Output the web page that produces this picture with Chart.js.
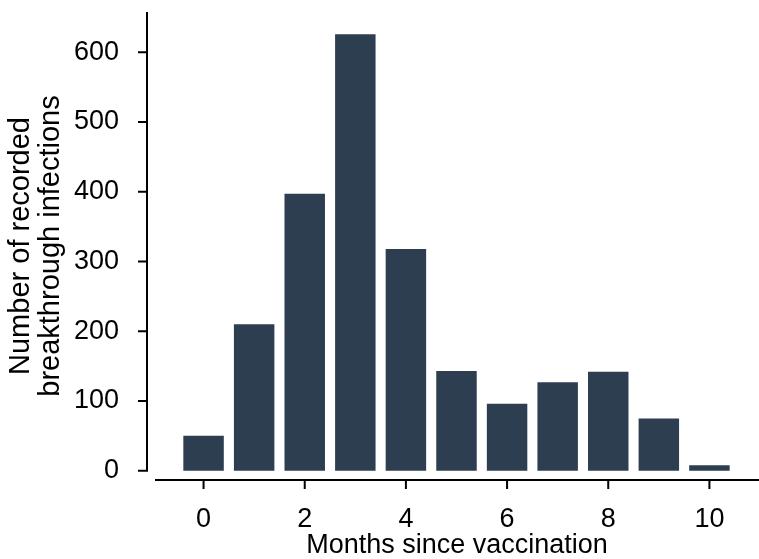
<!DOCTYPE html>
<html><head><meta charset="utf-8">
<script src="https://cdn.jsdelivr.net/npm/chart.js@4/dist/chart.umd.min.js"></script>
<style>html,body{margin:0;padding:0;background:#fff}#wrap{width:759px;height:559px;position:relative}</style>
</head><body><div id="wrap"><canvas id="c" width="759" height="559"></canvas></div>
<script>
const months = [0, 1, 2, 3, 4, 5, 6, 7, 8, 9, 10];
const infections = [50, 210, 397, 626, 318, 143, 96, 127, 142, 75, 8];
const xTickValues = [0, 2, 4, 6, 8, 10];
const yTickValues = [0, 100, 200, 300, 400, 500, 600];
const xTitle = 'Months since vaccination';
const yTitle = ['Number of recorded', 'breakthrough infections'];

const FONT = '"Liberation Sans", Arial, Helvetica, sans-serif';

const axisLines = {
  id: 'axisLines',
  afterDraw(chart) {
    const {ctx, chartArea, scales: {x, y}} = chart;
    ctx.save();
    ctx.strokeStyle = '#000';
    ctx.lineWidth = 2;
    ctx.beginPath();
    const yx = chartArea.left - 8;
    const y0 = y.getPixelForValue(yTickValues[0]);
    ctx.moveTo(yx, chartArea.top);
    ctx.lineTo(yx, y0 + 1);
    yTickValues.forEach(v => {
      const p = y.getPixelForValue(v);
      ctx.moveTo(yx - 9, p);
      ctx.lineTo(yx, p);
    });
    const xy = chartArea.bottom;
    ctx.moveTo(chartArea.left, xy);
    ctx.lineTo(chartArea.right, xy);
    xTickValues.forEach(v => {
      const p = x.getPixelForValue(v);
      ctx.moveTo(p, xy);
      ctx.lineTo(p, xy + 9);
    });
    ctx.stroke();
    ctx.restore();
  }
};

new Chart(document.getElementById('c'), {
  type: 'bar',
  data: {
    datasets: [{
      data: months.map((m, i) => ({x: m, y: infections[i]})),
      backgroundColor: '#2c3e50',
      barPercentage: 0.8,
      categoryPercentage: 1
    }]
  },
  options: {
    responsive: false,
    animation: false,
    devicePixelRatio: 1,
    layout: {padding: {top: 12, right: 0, bottom: 0, left: 0}},
    plugins: {legend: {display: false}, tooltip: {enabled: false}},
    scales: {
      x: {
        type: 'linear',
        offset: false,
        min: -0.96,
        max: 10.98,
        grid: {display: false, offset: false},
        border: {display: false},
        afterBuildTicks: s => { s.ticks = xTickValues.map(v => ({value: v})); },
        afterFit: s => { s.height = 79; s.paddingLeft = 0; s.paddingRight = 0; },
        ticks: {
          color: '#000',
          padding: 15,
          autoSkip: false,
          maxRotation: 0,
          font: {family: FONT, size: 27, lineHeight: 1.2}
        },
        title: {
          display: true,
          text: xTitle,
          color: '#000',
          padding: 0,
          font: {family: FONT, size: 27, lineHeight: 1}
        }
      },
      y: {
        min: -13.3,
        max: 657.8,
        grid: {display: false},
        border: {display: false},
        afterBuildTicks: s => { s.ticks = yTickValues.map(v => ({value: v})); },
        afterFit: s => { s.width = 155; s.paddingTop = 0; s.paddingBottom = 0; },
        ticks: {
          color: '#000',
          padding: 28,
          font: {family: FONT, size: 27, lineHeight: 1.2}
        },
        title: {
          display: true,
          text: yTitle,
          color: '#000',
          padding: {top: 6, bottom: 0},
          font: {family: FONT, size: 29, lineHeight: 1.03}
        }
      }
    }
  },
  plugins: [axisLines]
});
</script>
</body></html>
